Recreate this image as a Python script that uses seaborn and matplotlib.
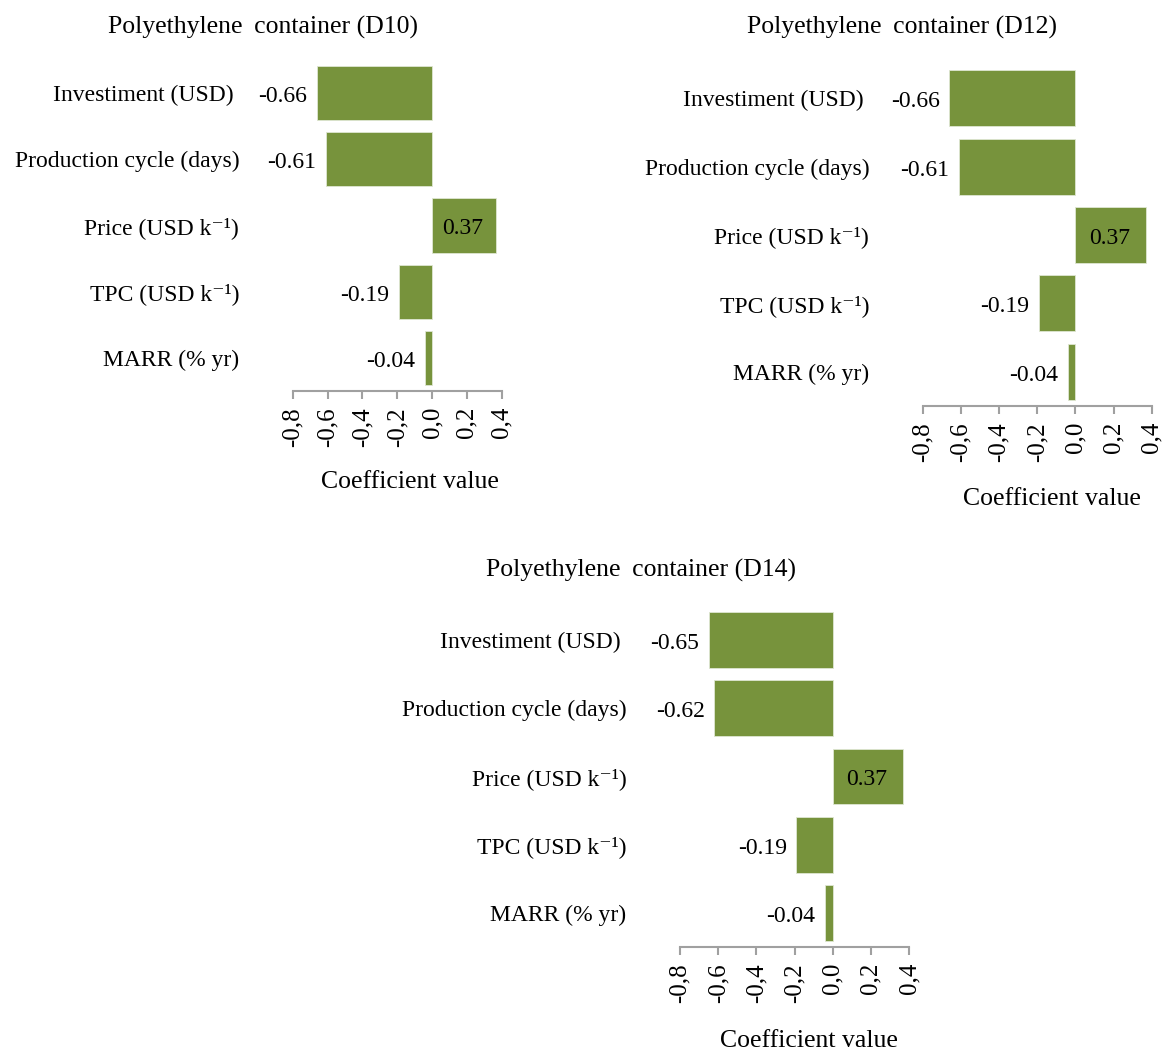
import numpy as np
import pandas as pd
import matplotlib
matplotlib.use("Agg")
import matplotlib.pyplot as plt
from matplotlib.ticker import FuncFormatter
import seaborn as sns

# Sensitivity coefficients of the economic indicators for each container design
categories = ["Investiment (USD) ", "Production cycle (days)", "Price (USD k\u207b\u00b9)",
              "TPC (USD k\u207b\u00b9)", "MARR (% yr)"]
coef_d10 = [-0.66, -0.61, 0.37, -0.19, -0.04]
coef_d12 = [-0.66, -0.61, 0.37, -0.19, -0.04]
coef_d14 = [-0.65, -0.62, 0.37, -0.19, -0.04]
titles = ["Polyethylene \u2009container (D10)", "Polyethylene \u2009container (D12)",
          "Polyethylene \u2009container (D14)"]
x_ticks = [-0.8, -0.6, -0.4, -0.2, 0.0, 0.2, 0.4]

sns.set_theme(style="white")
plt.rcParams["font.family"] = ["Liberation Serif", "DejaVu Serif"]
plt.rcParams["text.color"] = "black"
plt.rcParams["xtick.labelcolor"] = "black"
plt.rcParams["ytick.labelcolor"] = "black"

W, H = 1165, 1053
fig = plt.figure(figsize=(W / 100, H / 100), dpi=100)

BAR = "#77933C"
GREY = "#a0a0a0"


def fx(px):
    return px / W


def fy(py):
    return 1 - py / H


def panel(values, title, box, title_xy, label_xy):
    left, top, right, bottom = box
    ax = fig.add_axes([fx(left), fy(bottom), fx(right - left), (bottom - top) / H])
    df = pd.DataFrame({"factor": categories, "coef": values})
    sns.barplot(data=df, x="coef", y="factor", orient="h", color=BAR, saturation=1,
                width=0.82, edgecolor="#dfe6d2", linewidth=0.6, ax=ax)
    ax.set_xlim(-0.8, 0.4)
    ax.set_xticks(x_ticks)
    ax.xaxis.set_major_formatter(FuncFormatter(
        lambda v, _: f"{round(v, 1) + 0.0:.1f}".replace(".", ",")))
    ax.tick_params(axis="x", which="both", bottom=True, direction="out", length=5.5,
                   width=1.5, color=GREY, labelcolor="black", labelsize=18,
                   labelrotation=90, pad=6)
    ax.tick_params(axis="y", length=0, pad=38.5, labelsize=17, labelcolor="black")
    for lab in ax.get_xticklabels():
        lab.set_rotation(90)
    ax.set_xlabel("")
    ax.set_ylabel("")
    for s in ("left", "top", "right"):
        ax.spines[s].set_visible(False)
    ax.spines["bottom"].set_color(GREY)
    ax.spines["bottom"].set_linewidth(1.5)
    ax.grid(False)
    ax.set_facecolor("none")

    # value labels: outside the end of negative bars, centred inside positive bars
    for i, v in enumerate(values):
        if v < 0:
            ax.annotate(f"{v:.2f}", xy=(v, i), xytext=(-7, -2.5), textcoords="offset points",
                        ha="right", va="center", fontsize=17, color="black")
        else:
            ax.annotate(f"{v:.2f}", xy=(v / 2, i), xytext=(-1, -2.5), textcoords="offset points",
                        ha="center", va="center", fontsize=17, color="black")

    fig.text(fx(title_xy[0]), fy(title_xy[1]), title, ha="center", va="center",
             fontsize=18.5, color="black")
    fig.text(fx(label_xy[0]), fy(label_xy[1]), "Coefficient value", ha="center", va="center",
             fontsize=18.5, color="black")
    return ax


panel(coef_d10, titles[0], (292.7, 60, 501.7, 391), (262.5, 27), (409.5, 482))
panel(coef_d12, titles[1], (922.7, 64, 1151.7, 406), (902, 27), (1052, 499))
panel(coef_d14, titles[2], (680, 606, 909, 947), (641.5, 570), (808.5, 1041))

fig.savefig("out.png", dpi=100, facecolor="white")
